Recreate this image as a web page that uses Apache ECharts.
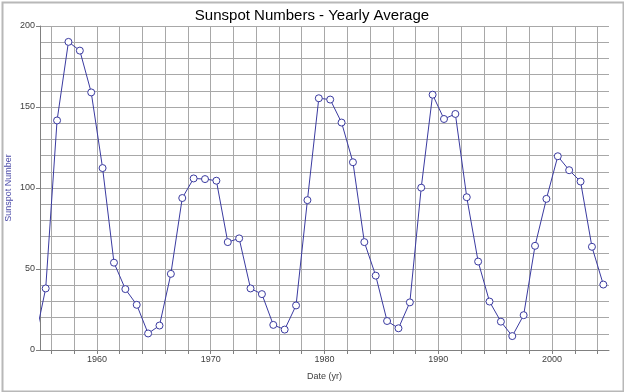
<!DOCTYPE html>
<html>
<head>
<meta charset="utf-8">
<script src="https://cdn.jsdelivr.net/npm/echarts@6/dist/echarts.min.js"></script>
<style>
html,body{margin:0;padding:0;background:#fff;}
#c{width:624px;height:392px;}
</style>
</head>
<body>
<div id="c"></div>
<script>
var years = [1954.5,1955.5,1956.5,1957.5,1958.5,1959.5,1960.5,1961.5,1962.5,1963.5,1964.5,1965.5,1966.5,1967.5,1968.5,1969.5,1970.5,1971.5,1972.5,1973.5,1974.5,1975.5,1976.5,1977.5,1978.5,1979.5,1980.5,1981.5,1982.5,1983.5,1984.5,1985.5,1986.5,1987.5,1988.5,1989.5,1990.5,1991.5,1992.5,1993.5,1994.5,1995.5,1996.5,1997.5,1998.5,1999.5,2000.5,2001.5,2002.5,2003.5,2004.5];
var sunspots = [4.4,38.0,141.7,190.2,184.8,159.0,112.3,53.9,37.6,27.9,10.2,15.1,47.0,93.8,105.9,105.5,104.5,66.6,68.9,38.0,34.5,15.5,12.6,27.5,92.5,155.4,154.6,140.4,115.9,66.6,45.9,17.9,13.4,29.4,100.2,157.6,142.6,145.7,94.3,54.6,29.9,17.5,8.6,21.5,64.3,93.3,119.6,111.0,104.0,63.7,40.4];
// axis scale categories (one per year across the axis, 1955..2005)
var axisYears = ['1955','1956','1957','1958','1959','1960','1961','1962','1963','1964','1965','1966','1967','1968','1969','1970','1971','1972','1973','1974','1975','1976','1977','1978','1979','1980','1981','1982','1983','1984','1985','1986','1987','1988','1989','1990','1991','1992','1993','1994','1995','1996','1997','1998','1999','2000','2001','2002','2003','2004','2005'];
var xLabelYears = ['1960','1970','1980','1990','2000'];

var chart = echarts.init(document.getElementById('c'));
var gridColor = '#a8a8a8';
var axisColor = '#808080';
var font = 'Liberation Sans, Arial';
var pts = years.map(function(y,i){return [y, sunspots[i]];});
function evenYear(i, v){ return parseInt(v, 10) % 2 === 0; }
chart.setOption({
  animation: false,
  backgroundColor: '#fff',
  title: {
    text: 'Sunspot Numbers - Yearly Average',
    left: 'center', top: 3,
    textStyle: {fontFamily: font, fontSize: 15, fontWeight: 'normal', color: '#000'}
  },
  graphic: [{
    type: 'rect', left: 0, top: 0, silent: true,
    shape: {x: 1, y: 1, width: 621, height: 389},
    style: {fill: 'none', stroke: '#b8b8b8', lineWidth: 2}
  }],
  grid: {left: 40, right: 15, top: 26, bottom: 42, containLabel: false, outerBoundsMode: 'none'},
  xAxis: [{
    type: 'category', data: axisYears, boundaryGap: false,
    name: 'Date (yr)', nameLocation: 'middle', nameGap: 22, nameMoveOverlap: false,
    nameTextStyle: {fontFamily: font, fontSize: 9, color: '#404040'},
    axisLine: {show: true, onZero: false, lineStyle: {color: axisColor, width: 1}},
    axisTick: {show: true, length: 4, inside: false, interval: evenYear, lineStyle: {color: axisColor}},
    axisLabel: {
      fontFamily: font, fontSize: 9, color: '#404040', margin: 5,
      interval: function(i, v){ return xLabelYears.indexOf(v) >= 0; }
    },
    splitLine: {show: true, interval: evenYear, lineStyle: {color: gridColor, width: 1}}
  }, {
    type: 'value', min: 1955, max: 2005, show: false,
    splitLine: {show: false}
  }],
  yAxis: {
    type: 'value', min: 0, max: 200, interval: 50,
    name: 'Sunspot Number', nameLocation: 'middle', nameGap: 27, nameRotate: 90, nameMoveOverlap: false,
    nameTextStyle: {fontFamily: font, fontSize: 9, color: '#4a4aa8'},
    axisLine: {show: true, lineStyle: {color: axisColor, width: 1}},
    axisTick: {show: true, length: 4, lineStyle: {color: axisColor}},
    axisLabel: {fontFamily: font, fontSize: 9, color: '#404040', margin: 5},
    splitLine: {show: true, lineStyle: {color: gridColor, width: 1}},
    minorTick: {show: false, splitNumber: 5},
    minorSplitLine: {show: true, lineStyle: {color: gridColor, width: 1}}
  },
  series: [{
    type: 'line', data: pts, clip: true, xAxisIndex: 1,
    symbol: 'circle', symbolSize: 7, showAllSymbol: true,
    lineStyle: {color: '#3a3aa0', width: 1},
    itemStyle: {color: '#fff', borderColor: '#3a3aa0', borderWidth: 1}
  }]
});
</script>
</body>
</html>
